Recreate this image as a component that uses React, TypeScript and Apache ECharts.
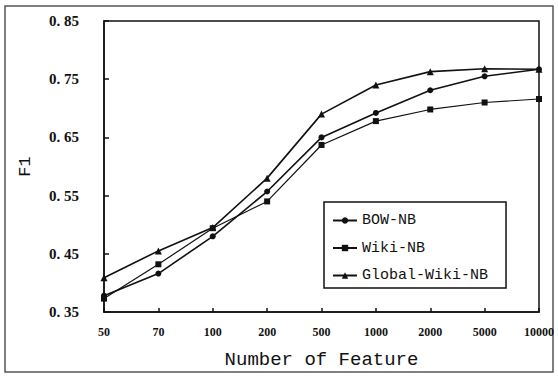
import React, { useEffect, useRef } from "react";
import * as echarts from "echarts";

const categories = ["50", "70", "100", "200", "500", "1000", "2000", "5000", "10000"];
const bowNB = [0.378, 0.416, 0.48, 0.557, 0.65, 0.692, 0.731, 0.755, 0.767];
const wikiNB = [0.373, 0.432, 0.494, 0.54, 0.637, 0.678, 0.698, 0.71, 0.716];
const globalWikiNB = [0.409, 0.455, 0.495, 0.58, 0.69, 0.74, 0.763, 0.768, 0.767];
const yTicks = [0.35, 0.45, 0.55, 0.65, 0.75, 0.85];

export default function App() {
  const ref = useRef<HTMLDivElement>(null);
  useEffect(() => {
    if (!ref.current) return;
    const chart = echarts.init(ref.current, null, { renderer: "svg" });
    const mono = "'Liberation Mono', 'DejaVu Sans Mono', monospace";
    const serif = "'Liberation Serif', 'DejaVu Serif', serif";
    const mk = (name: string, data: number[], symbol: string, size: number, width: number) => ({
      name,
      type: "line",
      data,
      symbol,
      symbolSize: size,
      showSymbol: true,
      lineStyle: { color: "#111", width },
      itemStyle: { color: "#111" },
    });
    chart.setOption({
      animation: false,
      backgroundColor: "#fff",
      graphic: [
        {
          type: "rect",
          shape: { x: 5, y: 6, width: 548, height: 366 },
          style: { fill: "none", stroke: "#555", lineWidth: 1.5 },
          silent: true,
        },
      ],
      grid: {
        left: 104,
        right: 19,
        top: 21,
        bottom: 64,
        show: true,
        borderColor: "#111",
        borderWidth: 1.5,
        containLabel: false,
      },
      legend: {
        orient: "vertical",
        left: 324,
        top: 202,
        width: 174,
        padding: [11, 18, 5, 8],
        itemGap: 12.5,
        itemWidth: 24,
        itemHeight: 8,
        borderColor: "#111",
        borderWidth: 1.5,
        backgroundColor: "#fff",
        textStyle: { fontFamily: mono, fontSize: 15, color: "#111" },
        data: ["BOW-NB", "Wiki-NB", "Global-Wiki-NB"],
      },
      xAxis: {
        type: "category",
        data: categories,
        boundaryGap: false,
        name: "Number of Feature",
        nameLocation: "middle",
        nameGap: 38,
        nameTextStyle: { fontFamily: mono, fontSize: 19, color: "#111" },
        axisLine: { lineStyle: { color: "#111", width: 1.5 } },
        axisTick: { inside: true, length: 4, lineStyle: { color: "#111", width: 1.5 } },
        axisLabel: {
          fontFamily: serif,
          fontWeight: "bold",
          fontSize: 12,
          color: "#111",
          margin: 14,
        },
        splitLine: { show: false },
      },
      yAxis: {
        type: "value",
        min: 0.35,
        max: 0.85,
        name: "F1",
        nameLocation: "middle",
        nameGap: 70,
        nameTextStyle: { fontFamily: mono, fontSize: 17, color: "#111" },
        axisLine: { show: true, lineStyle: { color: "#111", width: 1.5 } },
        axisTick: {
          show: true,
          inside: true,
          length: 5,
          customValues: yTicks,
          lineStyle: { color: "#111", width: 1.5 },
        },
        axisLabel: {
          customValues: yTicks,
          formatter: (v: number) => v.toFixed(2).replace(".", ". "),
          fontFamily: serif,
          fontWeight: "bold",
          fontSize: 15,
          color: "#111",
          margin: 25,
        },
        splitLine: { show: false },
      },
      series: [
        mk("BOW-NB", bowNB, "circle", 6, 1.6),
        mk("Wiki-NB", wikiNB, "rect", 6, 1.2),
        mk("Global-Wiki-NB", globalWikiNB, "triangle", 7, 1.6),
      ],
    });
    return () => chart.dispose();
  }, []);
  return <div ref={ref} style={{ width: 558, height: 376, position: "absolute", left: 0, top: 0 }} />;
}
